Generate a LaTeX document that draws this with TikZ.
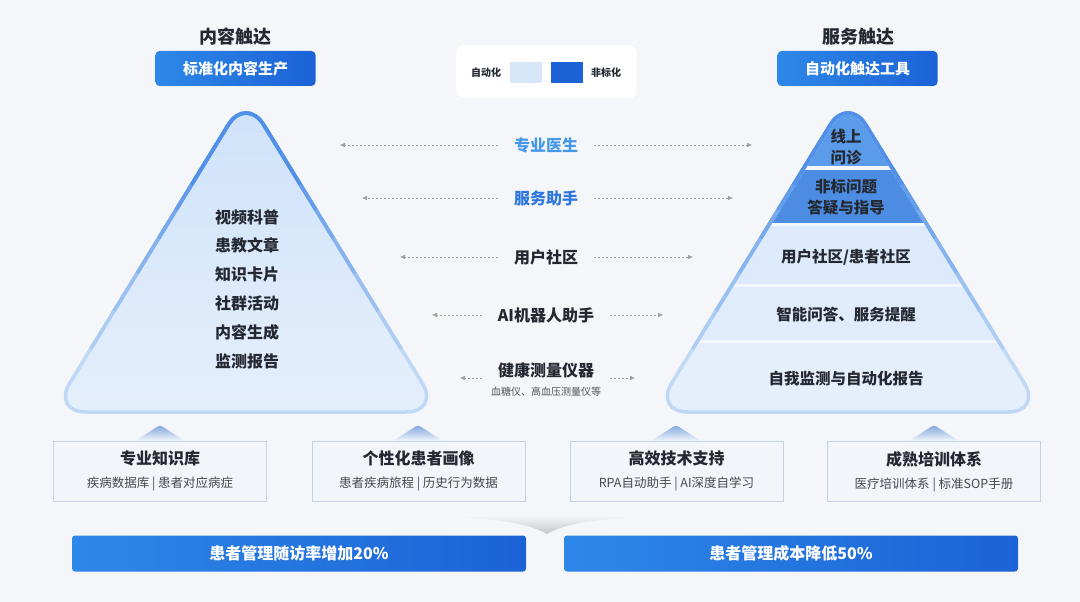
\documentclass[tikz,border=0pt]{standalone}
\usepackage{fontspec}
\setmainfont{Noto Sans CJK SC}
\usepackage{tikz}
\usepackage{xcolor}
\usetikzlibrary{arrows.meta,positioning,calc}
\definecolor{pagebg}{RGB}{245,246,249}
\definecolor{inkdark}{RGB}{36,40,48}
\definecolor{accentblue}{RGB}{27,98,214}
\definecolor{accentlight}{RGB}{46,136,232}
\definecolor{softblue}{RGB}{214,231,249}
\definecolor{docblue}{RGB}{70,152,232}
\definecolor{helperblue}{RGB}{44,118,222}
\definecolor{edgedark}{RGB}{68,136,230}
\definecolor{edgelight}{RGB}{190,216,246}
\definecolor{tritop}{RGB}{206,226,250}
\definecolor{tribottom}{RGB}{229,239,252}
\definecolor{tiertop}{RGB}{90,156,234}
\definecolor{tiersecond}{RGB}{76,140,226}
\definecolor{tierpale}{RGB}{221,234,251}
\definecolor{cardfill}{RGB}{242,246,251}
\definecolor{cardedge}{RGB}{196,210,228}
\definecolor{peakblue}{RGB}{128,166,222}

\begin{document}
\begin{tikzpicture}[x=1pt, y=-1pt, >=Latex,
    heading/.style={text=inkdark, font=\fontsize{18}{20}\selectfont\bfseries},
    button/.style={rounded corners=4pt, left color=accentlight, right color=accentblue,
      text=white, minimum width=160pt, minimum height=35pt, inner sep=0pt,
      font=\fontsize{15}{18}\selectfont\bfseries},
    legendtext/.style={text=inkdark, font=\fontsize{10}{12}\selectfont\bfseries},
    swatch/.style={minimum width=32pt, minimum height=21pt, inner sep=0pt},
    listtext/.style={text=inkdark, align=center, font=\fontsize{16}{28.8}\selectfont\bfseries},
    tiertext/.style={text=inkdark, align=center, font=\fontsize{15.5}{21}\selectfont\bfseries},
    midlabel/.style={text=inkdark, inner xsep=16pt, font=\fontsize{16}{18}\selectfont\bfseries},
    note/.style={text=inkdark!80, font=\fontsize{10}{12}\selectfont},
    link/.style={gray!75, thin, dash pattern=on 2pt off 2pt, -{Latex[length=5pt,width=4.5pt]}},
    rim/.style={line width=3.5pt, rounded corners=34pt},
    card/.style={draw=cardedge, fill=cardfill, minimum width=213pt, minimum height=60pt, inner sep=0pt},
    cardtitle/.style={text=inkdark, font=\fontsize{16}{18}\selectfont\bfseries},
    cardsub/.style={text=inkdark!85, font=\fontsize{12.5}{14}\selectfont},
    bar/.style={rounded corners=3pt, left color=accentlight, right color=accentblue,
      text=white, minimum width=454pt, minimum height=36pt, inner sep=0pt,
      font=\fontsize{16}{18}\selectfont\bfseries}]

  \fill[pagebg] (0,0) rectangle (1080,602);
  \useasboundingbox (0,0) rectangle (1080,602);

  % headings
  \node[heading] (contentHead) at (235,37) {内容触达};
  \node[button] (stdBtn) at (235.5,68.5) {标准化内容生产};
  \node[heading] (serviceHead) at (858,37) {服务触达};
  \node[button] (autoBtn) at (857.5,68.5) {自动化触达工具};

  % legend
  \node[draw=gray!12, fill=white, rounded corners=5pt, minimum width=181pt, minimum height=53pt] (legend) at (546.5,71.5) {};
  \node[legendtext] (autoText) at (486,72.5) {自动化};
  \node[swatch, fill=softblue] (autoSwatch) at (526,72.5) {};
  \node[swatch, fill=accentblue] (manualSwatch) at (567,72.5) {};
  \node[legendtext] (manualText) at (606,72.5) {非标化};

  % left triangle
  \shade[top color=tritop, bottom color=tribottom, rounded corners=34pt] (246,96) -- (440,412) -- (52,412) -- cycle;
  \draw[rim, edgelight] (246,96) -- (440,412) -- (52,412) -- cycle;
  \foreach \f/\m in {0.8/15, 0.68/30, 0.56/45, 0.45/60, 0.36/75, 0.28/90}
    \draw[rim, edgedark!\m!edgelight] ($(246,96)!\f!(52,412)$) -- (246,96) -- ($(246,96)!\f!(440,412)$);
  \node[listtext] (contentList) at (247,289) {视频科普\\患教文章\\知识卡片\\社群活动\\内容生成\\监测报告};

  % right pyramid
  \begin{scope}
    \clip[rounded corners=34pt] (848,96) -- (1042,412) -- (654,412) -- cycle;
    \fill[white!60!tierpale] (640,90) rectangle (1050,420);
    \fill[tiertop] (640,90) rectangle (1050,166);
    \fill[tiersecond] (640,170) rectangle (1050,223);
    \fill[tierpale] (640,226) rectangle (1050,284);
    \fill[tierpale!90!white] (640,287) rectangle (1050,340);
    \fill[tribottom] (640,343) rectangle (1050,420);
  \end{scope}
  \draw[rim, edgelight] (848,96) -- (1042,412) -- (654,412) -- cycle;
  \foreach \f/\m in {0.8/15, 0.68/30, 0.56/45, 0.45/60, 0.36/75, 0.28/90}
    \draw[rim, edgedark!\m!edgelight] ($(848,96)!\f!(654,412)$) -- (848,96) -- ($(848,96)!\f!(1042,412)$);
  \node[tiertext] (consult) at (846,147) {线上\\问诊};
  \node[tiertext] (guide) at (846,197) {非标问题\\答疑与指导};
  \node[tiertext] (patientClub) at (846,257) {用户社区/患者社区};
  \node[tiertext] (smartQA) at (846,315) {智能问答、服务提醒};
  \node[tiertext] (selfReport) at (846,379) {自我监测与自动化报告};

  % middle links
  \node[midlabel, text=docblue] (doctor) at (546,145) {专业医生};
  \coordinate (doctorL) at (340,145);
  \coordinate (doctorR) at (752,145);
  \draw[link] (doctor.west) -- (doctorL);
  \draw[link] (doctor.east) -- (doctorR);

  \node[midlabel, text=helperblue] (helper) at (546,198) {服务助手};
  \coordinate (helperL) at (362,198);
  \coordinate (helperR) at (733,198);
  \draw[link] (helper.west) -- (helperL);
  \draw[link] (helper.east) -- (helperR);

  \node[midlabel] (community) at (546,257) {用户社区};
  \coordinate (communityL) at (400,257);
  \coordinate (communityR) at (693,257);
  \draw[link] (community.west) -- (communityL);
  \draw[link] (community.east) -- (communityR);

  \node[midlabel] (robot) at (546,315) {AI机器人助手};
  \coordinate (robotL) at (432,315);
  \coordinate (robotR) at (663,315);
  \draw[link] (robot.west) -- (robotL);
  \draw[link] (robot.east) -- (robotR);

  \node[midlabel] (device) at (546,370) {健康测量仪器};
  \node[note] (deviceNote) at (546,392) {血糖仪、高血压测量仪等};
  \coordinate (deviceL) at (460,378);
  \coordinate (deviceR) at (635,378);
  \draw[link] ([yshift=-8pt]device.west) -- (deviceL);
  \draw[link] ([yshift=-8pt]device.east) -- (deviceR);

  % cards
  \shade[top color=peakblue, bottom color=cardfill, rounded corners=3pt] (135,441) -- (160,425) -- (185,441) -- cycle;
  \shade[top color=peakblue, bottom color=cardfill, rounded corners=3pt] (393,441) -- (418,425) -- (443,441) -- cycle;
  \shade[top color=peakblue, bottom color=cardfill, rounded corners=3pt] (651,441) -- (676,425) -- (701,441) -- cycle;
  \shade[top color=peakblue, bottom color=cardfill, rounded corners=3pt] (909,441) -- (934,425) -- (959,441) -- cycle;

  \node[card] (knowledge) at (160,471) {};
  \node[cardtitle] (knowledgeTitle) at (160,458) {专业知识库};
  \node[cardsub] (knowledgeSub) at (160,484) {疾病数据库 | 患者对应病症};

  \node[card] (persona) at (418.5,471) {};
  \node[cardtitle] (personaTitle) at (418.5,458) {个性化患者画像};
  \node[cardsub] (personaSub) at (418.5,484) {患者疾病旅程 | 历史行为数据};

  \node[card] (techSupport) at (676.5,471.5) {};
  \node[cardtitle] (techTitle) at (676.5,458) {高效技术支持};
  \node[cardsub] (techSub) at (676.5,484) {RPA自动助手 | AI深度自学习};

  \node[card] (training) at (934,471.5) {};
  \node[cardtitle] (trainingTitle) at (934,459) {成熟培训体系};
  \node[cardsub] (trainingSub) at (934,485) {医疗培训体系 | 标准SOP手册};

  % results
  \shade[top color=pagebg, bottom color=gray!45] (430,516) .. controls (500,518) and (530,524) .. (547,534) .. controls (564,524) and (594,518) .. (666,516) -- cycle;
  \node[bar] (followUp) at (299,553.5) {患者管理随访率增加20\%};
  \node[bar] (costDown) at (791,553.5) {患者管理成本降低50\%};
\end{tikzpicture}
\end{document}
